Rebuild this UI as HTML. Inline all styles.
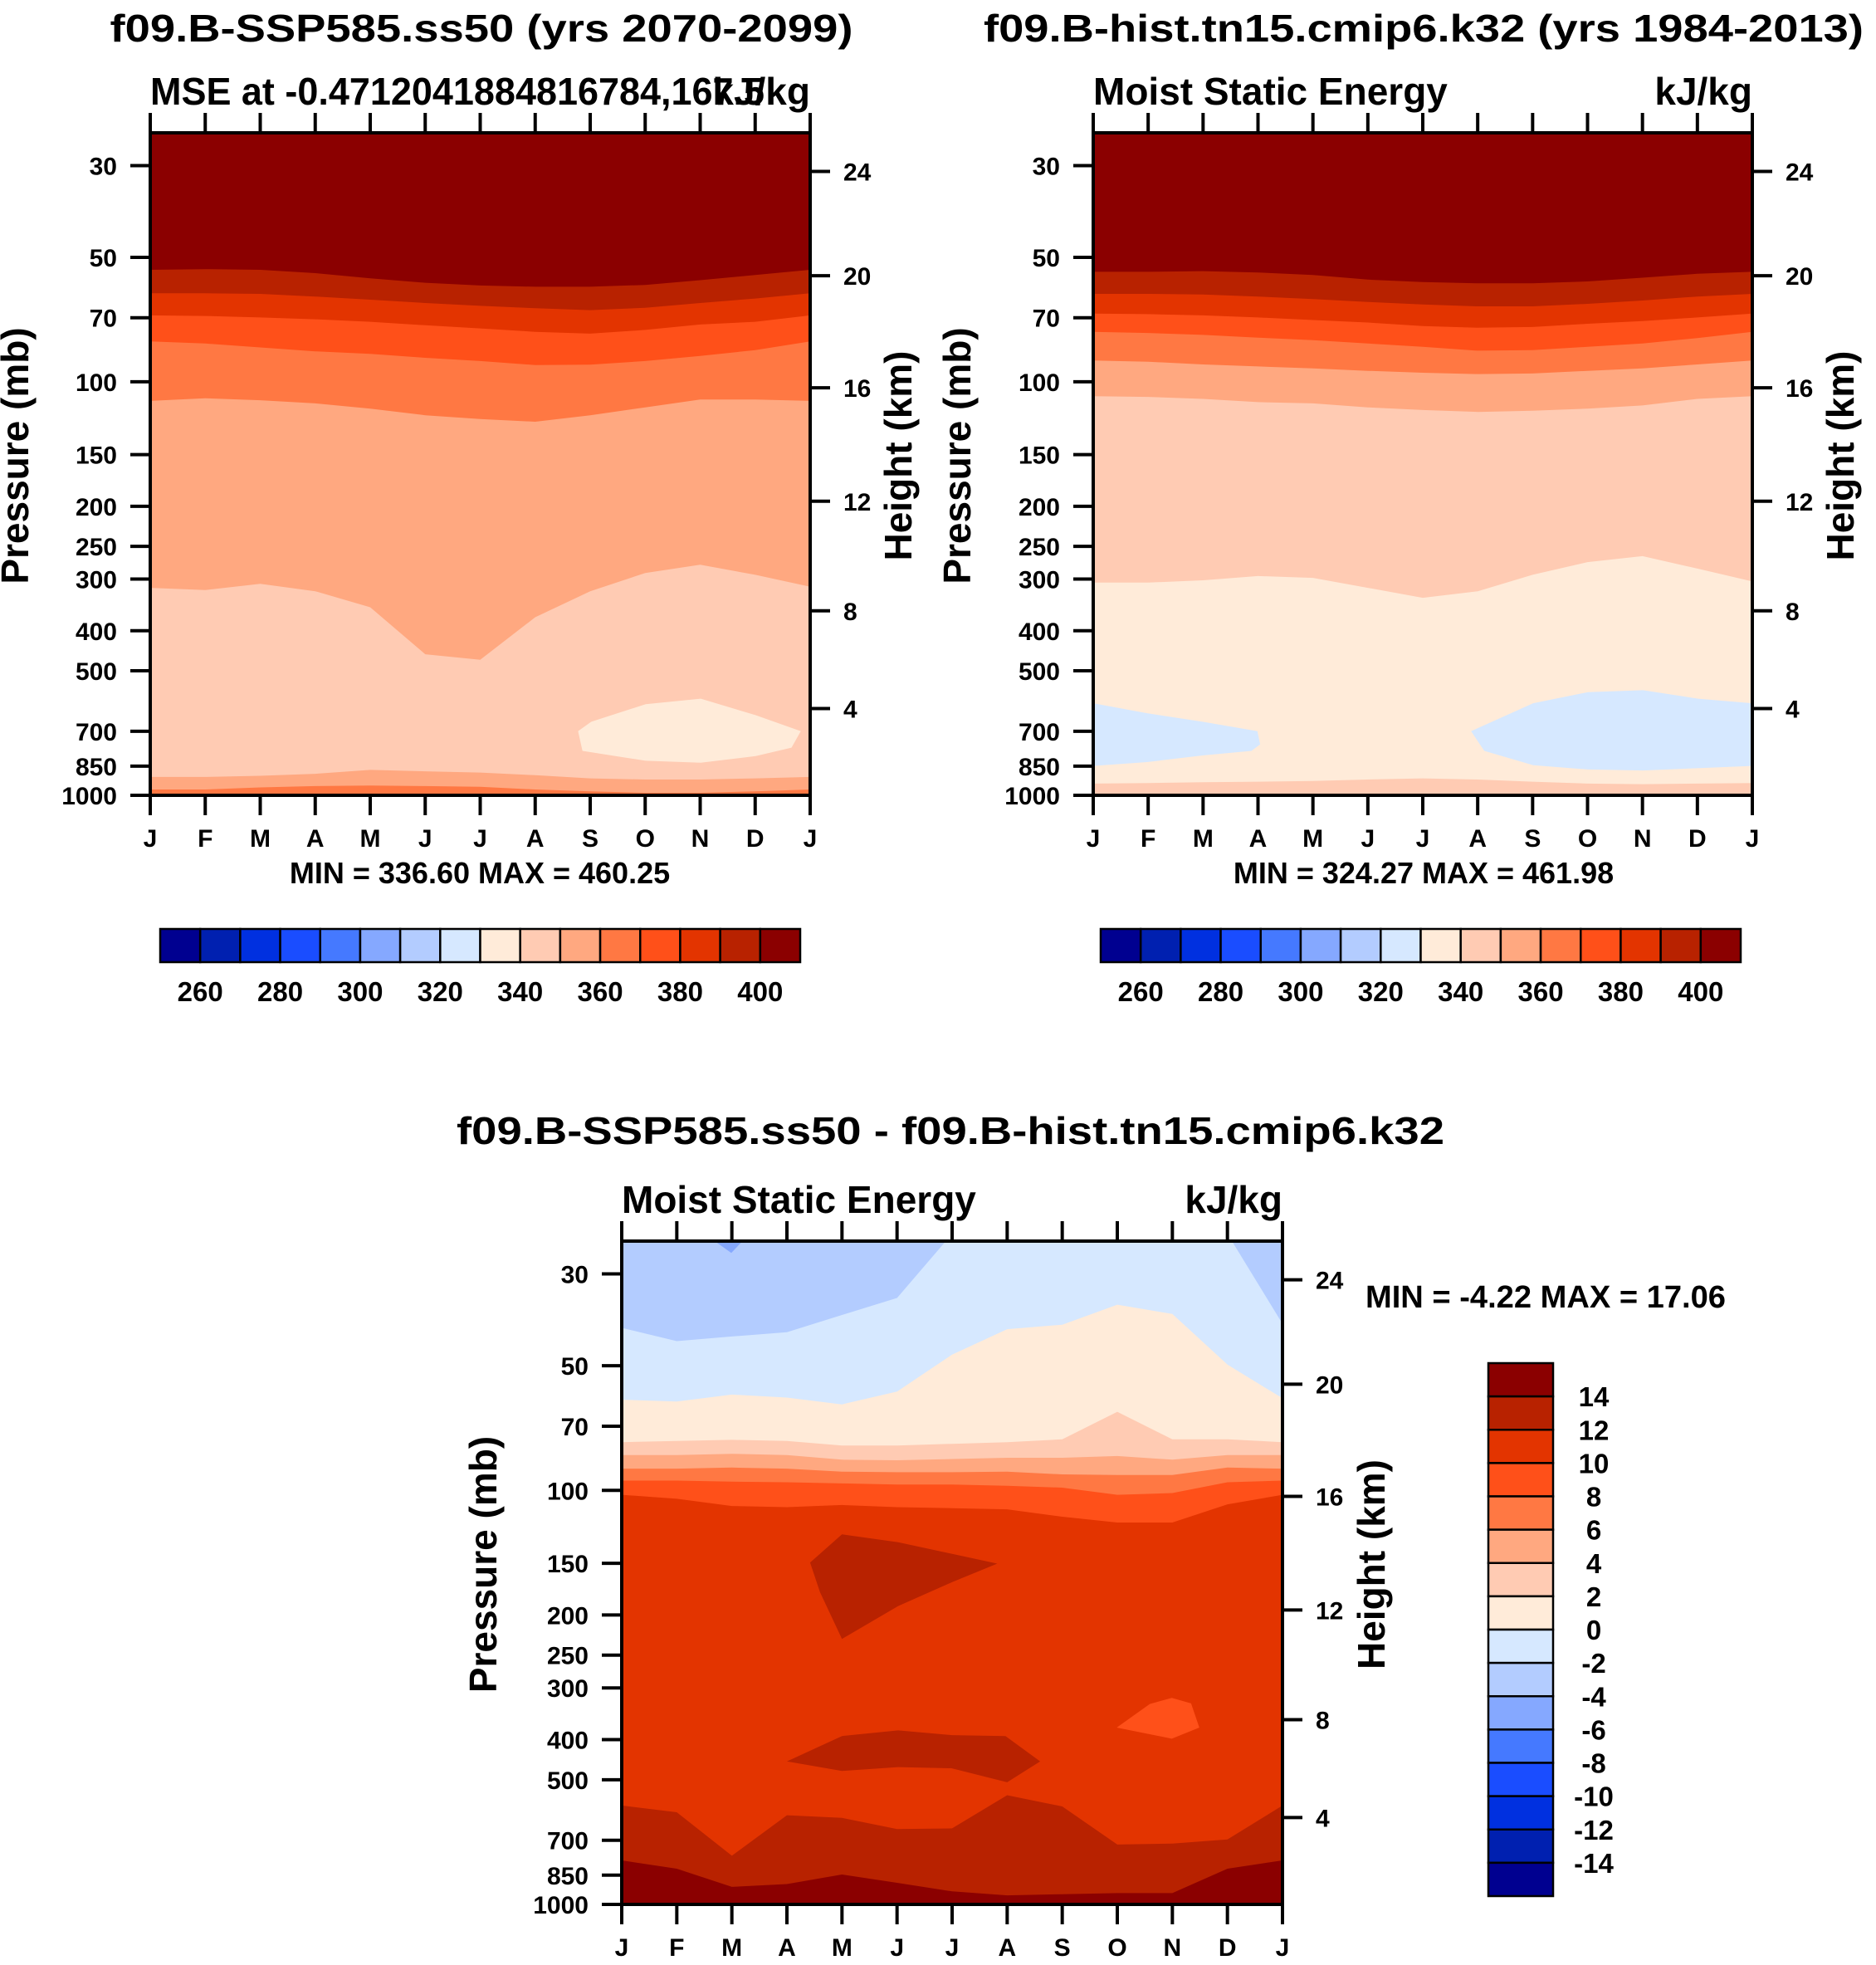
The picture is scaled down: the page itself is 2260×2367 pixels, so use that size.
<!DOCTYPE html>
<html><head><meta charset="utf-8"><style>
html,body{margin:0;padding:0;background:#fff;overflow:hidden}
svg{display:block}
text{font-family:"Liberation Sans",Arial,sans-serif;font-weight:bold;fill:#000}
</style></head><body>
<svg id="chart" width="2260" height="2367" viewBox="0 0 2260 2367" xmlns="http://www.w3.org/2000/svg">
<rect width="2260" height="2367" fill="#fff"/>
<text x="580" y="50" font-size="46" text-anchor="middle" textLength="895" lengthAdjust="spacingAndGlyphs">f09.B-SSP585.ss50 (yrs 2070-2099)</text>
<text x="1715" y="50" font-size="46" text-anchor="middle" textLength="1060" lengthAdjust="spacingAndGlyphs">f09.B-hist.tn15.cmip6.k32 (yrs 1984-2013)</text>
<text x="1145" y="1378" font-size="46" text-anchor="middle" textLength="1190" lengthAdjust="spacingAndGlyphs">f09.B-SSP585.ss50 - f09.B-hist.tn15.cmip6.k32</text>
<g id="plots"></g>
</svg>
<script>
// ---------- shared axis data ----------
const months = ["J","F","M","A","M","J","J","A","S","O","N","D","J"];
const pressureTicks = [30,50,70,100,150,200,250,300,400,500,700,850,1000];
const heightTickLabels = ["24","20","16","12","8","4"];
const heightTickPressures = [31.0,55.4,103.4,194.5,358,617];
const pTop = 25, pBot = 1000;
const absLevels = ["260","280","300","320","340","360","380","400"];
const diffLevels = ["14","12","10","8","6","4","2","0","-2","-4","-6","-8","-10","-12","-14"];
const palette = ["#000090","#0020b0","#0030e0","#1a4dff","#4579ff","#85a8ff","#b3ccff","#d6e8ff","#ffebd9","#ffcbb3","#ffa880","#ff7843","#ff5019","#e33400","#b82200","#8b0000"];

// ---------- panel 1 (SSP585) boundaries: pressure (mb) per month ----------
const s_b400 = [53.6,53.4,53.6,54.6,56.2,57.6,58.5,58.9,58.9,58.3,56.8,55.2,53.6];
const s_b390 = [61.1,61.1,61.3,62.2,63.3,64.5,65.5,66.4,67.1,66.2,64.5,62.9,61.1];
const s_b380 = [69.1,69.3,69.9,70.6,71.6,73.0,74.3,75.7,76.5,74.9,72.7,71.6,69.1];
const s_b370 = [79.9,80.8,82.6,84.4,85.6,87.5,89.1,91.1,90.9,89.1,86.6,83.8,79.9];
const s_b360 = [111.2,109.6,110.8,112.8,116.1,120.5,123.1,124.9,120.5,115.3,110.4,110.4,111.2];
const s_b350 = [315,319,308,321,351,456,470,371,321,290,277,293,313];
const s_b350low = [903,903,897,887,868,875,881,894,910,916,916,910,903];
const s_b360low = [968,968,957,950,947,950,954,968,978,986,986,978,968];
const s_bubbleM = [7.78,8.02,9.01,10.01,11.01,11.83,11.66,11.01,10.01,9.01,7.86];
const s_bubbleP = [700,664,602,584,640,700,767,804,834,825,781];

// ---------- panel 2 (hist) boundaries ----------
const h_b400 = [54.2,54.2,54.0,54.4,55.2,56.6,57.4,57.8,57.8,57.2,56.0,54.8,54.2];
const h_b390 = [61.3,61.3,61.5,62.2,63.1,64.1,65.0,65.7,65.7,64.8,63.6,62.2,61.3];
const h_b380 = [68.4,68.6,69.1,69.9,70.9,71.9,73.3,74.0,73.7,72.4,71.3,69.9,68.4];
const h_b370 = [75.7,76.2,77.0,78.2,79.3,80.8,82.3,84.1,83.8,82.3,80.8,78.4,75.7];
const h_b360 = [88.8,89.4,90.8,91.8,92.8,94.1,95.1,95.8,95.5,94.1,92.8,90.8,88.8];
const h_b350 = [108.4,108.8,110.0,112.0,112.8,115.3,117.0,118.3,117.5,116.1,114.1,110.0,108.4];
const h_b340 = [306,306,302,295,298,315,333,321,293,273,264,283,304];
const h_b340low = [937,934,930,927,923,916,910,916,927,937,940,937,934];
const h_blueLM = [0,0.98,1.99,2.99,3.04,2.88,1.99,0.98,0];
const h_blueLP = [599,633,664,700,753,781,801,831,849];
const h_blueRM = [6.88,8.01,9.01,10.01,11.01,12,12,10.01,9.01,8.01,7.12];
const h_blueRP = [700,599,563,557,584,599,849,871,866,846,781];

// ---------- panel 3 (difference) boundaries ----------
const d_bm2 = [40.5,43.6,42.5,41.5,37.7,34.3,24,24,24,24,24,24,39.6];
const d_b0 = [60.4,61.0,58.7,59.7,62.0,57.7,47.0,40.8,39.8,35.6,37.5,49.7,59.9];
const d_b2 = [76.5,76.0,75.5,76.0,77.9,77.9,77.2,76.5,75.3,64.6,75.3,75.3,76.5];
const d_b4 = [82.2,82.2,81.6,82.2,84.3,84.6,84.0,83.4,83.4,82.6,84.3,82.2,82.2];
const d_b6 = [88.6,88.6,88.1,88.6,90.1,90.4,90.4,90.1,91.5,91.8,91.8,88.1,88.6];
const d_b8 = [94.7,94.7,95.3,95.6,96.2,96.8,96.8,97.5,98.5,102.5,101.5,95.6,94.7];
const d_b10 = [102.5,104.8,109.1,109.8,108.5,109.8,110.4,111.1,115.8,119.6,119.6,108.1,102.5];
const d_b12 = [577,599,763,609,618,658,655,545,580,717,713,697,577];
const d_b14 = [783,820,907,893,847,887,930,951,945,939,939,820,783];
const d_tipM = [1.5,1.99,2.32];
const d_tipP = [24,26.7,24];
const d_blob1M = [3.42,4.0,5.02,6.82,5.99,5.02,4.0,3.6];
const d_blob1P = [149.4,127.7,133.4,150.3,166.8,190.3,228.4,176];
const d_blob2M = [3.0,4.0,5.02,5.99,6.97,7.6,7.0,5.99,5.02,4.0];
const d_blob2P = [451.6,392,380,390,392,451.6,507,469,466,476];
const d_blob3M = [8.99,9.59,9.99,10.34,10.49,9.99];
const d_blob3P = [374,328,317,327,374,398];
const d_whiteM = [0,1,1,0];
const d_whiteM2 = [10,12,12,10];
const d_whiteP = [992,992,1010,1010];

const NS = "http://www.w3.org/2000/svg";
const root = document.getElementById('plots');
function mk(tag, attrs, parent){ const e=document.createElementNS(NS,tag); for(const k in attrs) e.setAttribute(k,attrs[k]); (parent||root).appendChild(e); return e; }

function panel(id, x0, y0, w, h){
  const xs = m => x0 + m/12*w;
  const ys = p => y0 + h*Math.log(p/pTop)/Math.log(pBot/pTop);
  const g = mk('g',{});
  
  
  const cp = mk('clipPath',{id:id+'-clip'},g);
  mk('rect',{x:x0,y:y0,width:w,height:h},cp);
  const field = mk('g',{'clip-path':'url(#'+id+'-clip)'},g);
  
  
  return {g, field, xs, ys, x0, y0, w, h};
}
function band(P, arr, color, name){
  let d = '';
  arr.forEach((p,i)=>{ d += (i?'L':'M') + P.xs(i).toFixed(1)+','+P.ys(p).toFixed(1); });
  d += 'L'+P.xs(12)+','+(P.ys(pBot)+5)+'L'+P.xs(0)+','+(P.ys(pBot)+5)+'Z';
  const e = mk('path',{d, fill:color}, P.field);
  
  
}
function blob(P, ms, ps, color, name){
  let d='';
  ms.forEach((m,i)=>{ d += (i?'L':'M') + P.xs(m).toFixed(1)+','+P.ys(ps[i]).toFixed(1); });
  d+='Z';
  const e = mk('path',{d, fill:color}, P.field);
  
  
}
function axes(P, subL, subR, yTitleX, hTitleX, subLLen){
  const g=P.g, {x0,y0,w,h}=P;
  mk('rect',{x:x0,y:y0,width:w,height:h,fill:'none',stroke:'#000','stroke-width':4},g);
  months.forEach((m,i)=>{
    const x=P.xs(i);
    mk('line',{x1:x,x2:x,y1:y0+h,y2:y0+h+24,stroke:'#000','stroke-width':4},g);
    mk('line',{x1:x,x2:x,y1:y0,y2:y0-24,stroke:'#000','stroke-width':4},g);
    const t=mk('text',{x:x,y:y0+h+62,'font-size':30,'text-anchor':'middle'},g);
    t.textContent=m;
    
    
  });
  pressureTicks.forEach(p=>{
    const y=P.ys(p);
    mk('line',{x1:x0,x2:x0-24,y1:y,y2:y,stroke:'#000','stroke-width':4},g);
    const t=mk('text',{x:x0-40,y:y+11,'font-size':30,'text-anchor':'end'},g);
    t.textContent=p;
    
    
  });
  heightTickPressures.forEach((p,i)=>{
    const y=P.ys(p);
    mk('line',{x1:x0+w,x2:x0+w+24,y1:y,y2:y,stroke:'#000','stroke-width':4},g);
    const t=mk('text',{x:x0+w+40,y:y+11,'font-size':30,'text-anchor':'start'},g);
    t.textContent=heightTickLabels[i];
    
    
  });
  const sla={x:x0,y:y0-34,'font-size':46};
  if(subLLen){ sla.textLength=subLLen; sla.lengthAdjust='spacingAndGlyphs'; }
  const sl=mk('text',sla,g); sl.textContent=subL;
   
  const sr=mk('text',{x:x0+w,y:y0-34,'font-size':46,'text-anchor':'end'},g); sr.textContent=subR;
   
  const cy=y0+h*0.5-10;
  const yt=mk('text',{x:yTitleX,y:cy,'font-size':46,'text-anchor':'middle',transform:'rotate(-90 '+yTitleX+' '+cy+')'},g);
  yt.textContent='Pressure (mb)';
   
  const ht=mk('text',{x:hTitleX,y:cy,'font-size':46,'text-anchor':'middle',transform:'rotate(-90 '+hTitleX+' '+cy+')'},g);
  ht.textContent='Height (km)';
   
}
function hbar(x0,y0,w,h,labelY){
  const g=mk('g',{});
   
  const bw=w/16;
  palette.forEach((c,i)=>{ mk('rect',{x:x0+i*bw,y:y0,width:bw,height:h,fill:c,stroke:'#000','stroke-width':2.5},g); });
  absLevels.forEach((l,i)=>{
    const t=mk('text',{x:x0+(2*i+1)*bw,y:labelY,'font-size':33,'text-anchor':'middle'},g);
    t.textContent=l;
     
  });
}
function txt(x,y,s,size,anchor,name){
  const t=mk('text',{x,y,'font-size':size,'text-anchor':anchor||'middle'});
  t.textContent=s;
   
}

// Panel 1
const A = panel('ssp585', 181, 160, 795, 798);
mk('rect',{x:0,y:0,width:3000,height:3000,fill:palette[15]},A.field);
band(A,s_b400,palette[14],'band-390'); band(A,s_b390,palette[13],'band-380');
band(A,s_b380,palette[12],'band-370'); band(A,s_b370,palette[11],'band-360');
band(A,s_b360,palette[10],'band-350'); band(A,s_b350,palette[9],'band-340');
blob(A,s_bubbleM,s_bubbleP,palette[8],'band-330-bubble');
band(A,s_b350low,palette[10],'band-350-low'); band(A,s_b360low,palette[11],'band-360-low');
axes(A,'MSE at -0.4712041884816784,167.5','kJ/kg',34,1098,740);
txt(578,1064,'MIN = 336.60 MAX = 460.25',36,'middle','min-max-label');
hbar(193,1119,771,40,1206);

// Panel 2
const B = panel('hist', 1317, 160, 794, 798);
mk('rect',{x:0,y:0,width:3000,height:3000,fill:palette[15]},B.field);
band(B,h_b400,palette[14],'band-390'); band(B,h_b390,palette[13],'band-380');
band(B,h_b380,palette[12],'band-370'); band(B,h_b370,palette[11],'band-360');
band(B,h_b360,palette[10],'band-350'); band(B,h_b350,palette[9],'band-340');
band(B,h_b340,palette[8],'band-330');
blob(B,h_blueLM,h_blueLP,palette[7],'band-320-left');
blob(B,h_blueRM,h_blueRP,palette[7],'band-320-right');
band(B,h_b340low,palette[9],'band-340-low');
axes(B,'Moist Static Energy','kJ/kg',1169,2233);
txt(1715,1064,'MIN = 324.27 MAX = 461.98',36,'middle','min-max-label');
hbar(1326,1119,771,40,1206);

// Panel 3
const C = panel('diff', 749, 1495, 796, 799);
mk('rect',{x:0,y:0,width:3000,height:3000,fill:palette[6]},C.field);
blob(C,d_tipM,d_tipP,palette[5],'band-minus6-tip');
band(C,d_bm2,palette[7],'band-minus2'); band(C,d_b0,palette[8],'band-0');
band(C,d_b2,palette[9],'band-2'); band(C,d_b4,palette[10],'band-4');
band(C,d_b6,palette[11],'band-6'); band(C,d_b8,palette[12],'band-8');
band(C,d_b10,palette[13],'band-10'); band(C,d_b12,palette[14],'band-12');
band(C,d_b14,palette[15],'band-14');
blob(C,d_blob1M,d_blob1P,palette[14],'blob-12-upper');
blob(C,d_blob2M,d_blob2P,palette[14],'blob-12-mid');
blob(C,d_blob3M,d_blob3P,palette[12],'blob-8');
blob(C,d_whiteM,d_whiteP,'#ffffff','missing-strip-left');
blob(C,d_whiteM2,d_whiteP,'#ffffff','missing-strip-right');
axes(C,'Moist Static Energy','kJ/kg',598,1668);
(function(){
  const t=mk('text',{x:1645,y:1575,'font-size':38,textLength:434,lengthAdjust:'spacingAndGlyphs'});
  t.textContent='MIN =  -4.22 MAX =  17.06';
   
})();
(function(){
  const g=mk('g',{});
   
  const x0=1793,y0=1642,w=78,h=642,bh=h/16;
  palette.slice().reverse().forEach((c,i)=>{ mk('rect',{x:x0,y:y0+i*bh,width:w,height:bh,fill:c,stroke:'#000','stroke-width':2.5},g); });
  diffLevels.forEach((l,i)=>{
    const t=mk('text',{x:1920,y:y0+(i+1)*bh+12,'font-size':33,'text-anchor':'middle'},g);
    t.textContent=l;
     
  });
})();
</script>
</body></html>
